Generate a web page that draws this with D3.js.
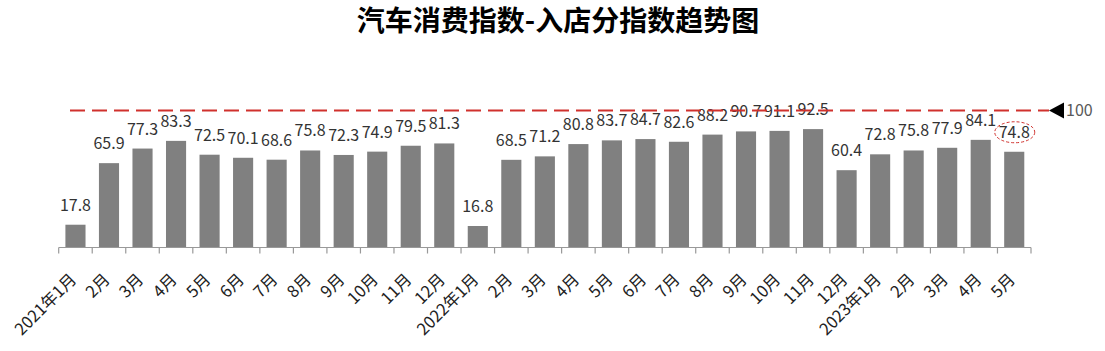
<!DOCTYPE html>
<html>
<head>
<meta charset="utf-8">
<script src="https://cdn.jsdelivr.net/npm/d3@7"></script>
<style>
  html, body { margin: 0; padding: 0; background: #fff; }
  svg { display: block; }
</style>
</head>
<body>
<svg id="chart" width="1105" height="351"></svg>
<script>
const title = "汽车消费指数-入店分指数趋势图";
const categories = [
  "2021年1月","2月","3月","4月","5月","6月","7月","8月","9月","10月","11月","12月",
  "2022年1月","2月","3月","4月","5月","6月","7月","8月","9月","10月","11月","12月",
  "2023年1月","2月","3月","4月","5月"
];
const values = [
  17.8, 65.9, 77.3, 83.3, 72.5, 70.1, 68.6, 75.8, 72.3, 74.9, 79.5, 81.3,
  16.8, 68.5, 71.2, 80.8, 83.7, 84.7, 82.6, 88.2, 90.7, 91.1, 92.5, 60.4,
  72.8, 75.8, 77.9, 84.1, 74.8
];
const referenceValue = 100;
const referenceLabel = "100";
const highlightIndex = 28;

const svg = d3.select("#chart");
const left = 58.7, right = 1031, baseY = 247.5;

const idx = categories.map((c, i) => i);
const x = d3.scaleBand().domain(idx).range([left, right]).paddingInner(0.4).paddingOuter(0.2);
const y = d3.scaleLinear().domain([0, 100]).range([baseY, baseY - 128]);
// secondary axis for the reference line
const yRef = d3.scaleLinear().domain([0, 100]).range([baseY, 110.5]);
const edge = d3.scaleLinear().domain([0, categories.length]).range([left, right]);

const font = "'Noto Sans CJK SC', 'Noto Sans', sans-serif";

// title
svg.append("text")
  .attr("x", 558).attr("y", 31)
  .attr("text-anchor", "middle")
  .attr("font-family", font)
  .attr("font-weight", "bold")
  .attr("font-size", 28)
  .attr("fill", "#000")
  .text(title);

// bars
svg.append("g").selectAll("rect").data(values).join("rect")
  .attr("x", (d, i) => x(i))
  .attr("y", d => y(d))
  .attr("width", x.bandwidth())
  .attr("height", d => baseY - y(d))
  .attr("fill", "#808080");

// value labels
svg.append("g").selectAll("text").data(values).join("text")
  .attr("x", (d, i) => x(i) + x.bandwidth() / 2)
  .attr("y", d => y(d) - 14)
  .attr("text-anchor", "middle")
  .attr("font-family", font)
  .attr("font-size", 16)
  .attr("fill", "#333")
  .text(d => d.toFixed(1));

// x axis
const axisG = svg.append("g").attr("transform", `translate(0,${baseY})`);
axisG.append("line")
  .attr("x1", left).attr("x2", right).attr("y1", 0).attr("y2", 0)
  .attr("stroke", "#999").attr("stroke-width", 1.2);
axisG.selectAll("line.tick").data(d3.range(categories.length + 1)).join("line")
  .attr("class", "tick")
  .attr("x1", d => edge(d)).attr("x2", d => edge(d))
  .attr("y1", 0).attr("y2", 6)
  .attr("stroke", "#999").attr("stroke-width", 1.2);

const labelAxis = d3.axisBottom(x).tickSize(0).tickFormat(i => categories[i]);
const lg = svg.append("g").attr("transform", `translate(0,${baseY})`).call(labelAxis);
lg.select(".domain").remove();
lg.selectAll("text")
  .attr("font-family", font)
  .attr("font-size", 16.5)
  .attr("fill", "#222")
  .attr("text-anchor", "end")
  .attr("dy", null)
  .attr("y", 0)
  .attr("transform", "translate(2,33) rotate(-45)");

// reference line
const refY = yRef(referenceValue);
svg.append("line")
  .attr("x1", 70).attr("x2", 1049)
  .attr("y1", refY).attr("y2", refY)
  .attr("stroke", "#d0312d").attr("stroke-width", 2)
  .attr("stroke-dasharray", "15,7");
svg.append("path")
  .attr("d", `M1049,${refY} L1064,${refY - 8} L1064,${refY + 8} Z`)
  .attr("fill", "#000");
svg.append("text")
  .attr("x", 1066).attr("y", refY + 5.5)
  .attr("font-family", font)
  .attr("font-size", 16)
  .attr("fill", "#595959")
  .text(referenceLabel);

// highlight ellipse
const hx = x(highlightIndex) + x.bandwidth() / 2;
svg.append("ellipse")
  .attr("cx", hx + 0.5).attr("cy", y(values[highlightIndex]) - 19.5)
  .attr("rx", 20).attr("ry", 10.5)
  .attr("fill", "none")
  .attr("stroke", "#d0312d").attr("stroke-width", 1)
  .attr("stroke-dasharray", "3,2");
</script>
</body>
</html>
